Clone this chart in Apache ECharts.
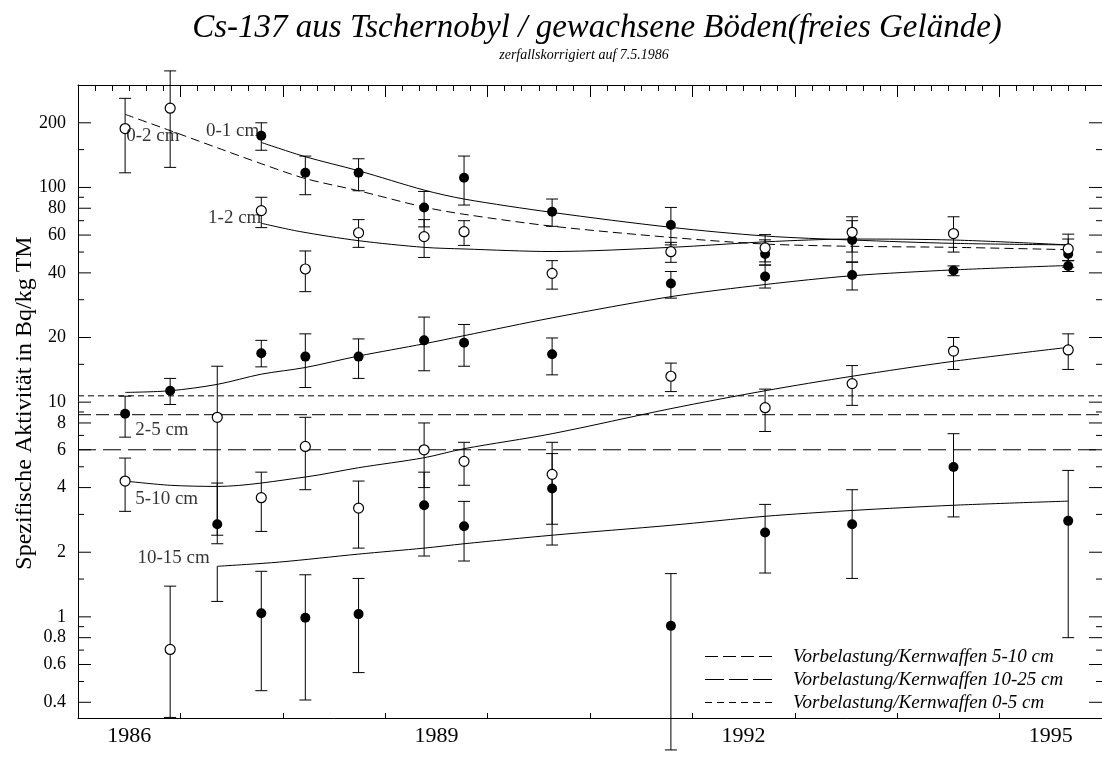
<!DOCTYPE html>
<html>
<head>
  <meta charset="utf-8">
  <script src="https://cdn.jsdelivr.net/npm/echarts@6/dist/echarts.min.js"></script>
</head>
<body style="margin: 0">
  <div id="container" style="width: 1102px; height: 774px"></div>
  <script>
    // Messpunkte: [Jahr, Wert, unten, oben]
    var fill0to1 = [[1987.79,174,149,200],[1988.22,117,92.5,140],[1988.74,117,96.5,136],[1989.38,80.7,65.5,95.8],[1989.77,111,82.8,140],[1990.63,77,65.9,88.3],[1991.79,66.8,54,80.7],[1992.71,49,43.5,57],[1993.56,56.9,45,70],[1995.67,49,42.5,60.6]];
    var fill2to5 = [[1986.46,8.83,6.87,10.66],[1986.90,11.3,9.75,12.9],[1987.79,16.9,14.6,19.4],[1988.22,16.3,11.7,20.8],[1988.74,16.3,12.9,19.7],[1989.38,19.4,14.0,24.9],[1989.77,18.9,14.7,23],[1990.63,16.7,13.4,19.9],[1991.79,35.7,30.5,40.6],[1992.71,38.5,34,43.5],[1993.56,39.1,33.3,44.8],[1994.55,41,38.8,43.1],[1995.67,43.1,40.6,45.6]];
    var fill10to15 = [[1987.36,2.7,2.4,4.2],[1987.79,1.04,0.453,1.63],[1988.22,0.99,0.41,1.57],[1988.74,1.03,0.55,1.51],[1989.38,3.31,1.92,4.72],[1989.77,2.64,1.82,3.45],[1990.63,3.96,2.16,5.76],[1991.79,0.908,0.24,1.59],[1992.71,2.47,1.60,3.34],[1993.56,2.70,1.51,3.91],[1994.55,4.99,2.92,7.13],[1995.67,2.80,0.80,4.81]];
    var open0to2 = [[1986.46,188,117,260],[1986.90,234,124,349]];
    var open1to2 = [[1987.79,78,65,90],[1988.22,41.7,32.7,50.6],[1988.74,61.5,52.6,70.8],[1989.38,59,47.2,70.8],[1989.77,62.2,53.7,70],[1990.63,39.8,33.6,45.6],[1991.79,50.2,44.8,55.5],[1992.71,52.3,45,60.3],[1993.56,61.8,50,73],[1994.55,61,50,73],[1995.67,51.7,45.6,57.5]];
    var open5to10 = [[1986.46,4.29,3.10,5.49],[1986.90,0.705,0.34,1.39],[1987.36,8.5,2.19,14.7],[1987.79,3.59,2.50,4.72],[1988.22,6.22,3.91,8.5],[1988.74,3.21,2.09,4.29],[1989.38,6.0,4.0,8.0],[1989.77,5.3,4.1,6.5],[1990.63,4.61,2.7,6.5],[1991.79,13.2,11.2,15.2],[1992.71,9.42,7.3,11.5],[1993.56,12.2,9.66,14.8],[1994.55,17.3,14.2,20],[1995.67,17.5,14.2,20.8]];
    var barOnly = [[1987.36,1.18,1.72]];

    // Ausgleichskurven
    var fit0to2 = [[1986.46,219],[1986.90,184],[1987.36,153],[1987.79,129],[1988.22,110],[1988.74,96.5],[1989.38,81],[1989.77,75],[1990.63,66],[1991.79,58.5],[1992.71,54.5],[1993.56,53.2],[1994.55,52.6],[1995.67,51.3]];
    var fit0to1 = [[1987.79,162],[1988.22,139],[1988.74,119.6],[1989.38,97.2],[1989.77,88.3],[1990.63,76.5],[1991.79,65.2],[1992.71,59.4],[1993.56,56.9],[1994.55,54.9],[1995.67,54]];
    var fit1to2 = [[1987.79,68.1],[1988.16,62.4],[1988.74,56.5],[1989.38,52.6],[1989.77,51.7],[1990.63,50.3],[1991.79,52.6],[1992.71,55.8],[1993.56,57.5],[1994.55,56.9],[1995.67,54]];
    var fit2to5 = [[1986.46,11.1],[1986.90,11.3],[1987.36,12.1],[1987.79,13.5],[1988.22,14.5],[1988.74,16.4],[1989.38,18.7],[1989.77,20.4],[1990.63,24.7],[1991.79,31],[1992.71,35.3],[1993.56,38.8],[1994.55,41.3],[1995.67,43.3]];
    var fit5to10 = [[1986.46,4.29],[1986.90,4.10],[1987.36,4.05],[1988.22,4.48],[1988.74,4.95],[1989.38,5.51],[1989.77,6.07],[1990.63,7.13],[1991.79,9.33],[1992.71,11.3],[1993.56,13.2],[1994.55,15.5],[1995.67,18.0]];
    var fit10to15 = [[1987.36,1.72],[1987.97,1.80],[1988.74,1.96],[1989.38,2.09],[1989.77,2.19],[1990.63,2.40],[1991.79,2.67],[1992.71,2.94],[1993.56,3.13],[1994.55,3.31],[1995.67,3.46]];

    // Vorbelastung (0-5, 5-10, 10-25 cm)
    var refValues = [10.7, 8.74, 6.0];
    var refDash = [[6, 4], [13, 5], [18, 7]];
    var legendLabels = ['Vorbelastung/Kernwaffen 5-10 cm', 'Vorbelastung/Kernwaffen 10-25 cm', 'Vorbelastung/Kernwaffen 0-5 cm'];
    var legendDash = [[13, 5], [19, 5], [7, 5]];

    var depthLabels = [
      { name: '0-2 cm', value: [1986.47, 174] },
      { name: '0-1 cm', value: [1987.25, 184] },
      { name: '1-2 cm', value: [1987.27, 72] },
      { name: '2-5 cm', value: [1986.56, 7.38] },
      { name: '5-10 cm', value: [1986.56, 3.55] },
      { name: '10-15 cm', value: [1986.58, 1.87] }
    ];

    var yMajorTicks = [0.4, 0.6, 0.8, 1, 2, 4, 6, 8, 10, 20, 40, 60, 80, 100, 200];
    var yMinorTicks = [0.5, 0.7, 0.9, 1.5, 3, 5, 7, 9, 15, 30, 50, 70, 90, 150];
    var xLabelYears = [1986, 1989, 1992, 1995];
    var xMin = 1986, xMax = 1996, yMin = 0.338, yMax = 300;

    var FONT = "'Liberation Serif', 'Times New Roman', serif";

    var dom = document.getElementById('container');
    var myChart = echarts.init(dom, null, { renderer: 'canvas' });

    function xy(arr) {
      return arr.map(function (d) { return [d[0], d[1]]; });
    }
    var errBars = [];
    [fill0to1, fill2to5, fill10to15, open0to2, open1to2, open5to10].forEach(function (arr) {
      arr.forEach(function (d) { errBars.push([d[0], d[2], d[3], 1]); });
    });
    barOnly.forEach(function (d) { errBars.push([d[0], d[1], d[2], 0]); });

    var yTicks = yMajorTicks.map(function (v) { return [xMin, v, 1]; })
      .concat(yMinorTicks.map(function (v) { return [xMin, v, 0]; }));

    function renderErr(params, api) {
      var x = api.value(0);
      var lo = api.coord([x, api.value(1)]);
      var hi = api.coord([x, api.value(2)]);
      var w = 6;
      var st = { stroke: '#000', lineWidth: 1 };
      var kids = [
        { type: 'line', shape: { x1: lo[0], y1: lo[1], x2: hi[0], y2: hi[1] }, style: st },
        { type: 'line', shape: { x1: lo[0] - w, y1: lo[1], x2: lo[0] + w, y2: lo[1] }, style: st }
      ];
      if (api.value(3)) {
        kids.push({ type: 'line', shape: { x1: hi[0] - w, y1: hi[1], x2: hi[0] + w, y2: hi[1] }, style: st });
      }
      return { type: 'group', children: kids };
    }

    function renderYTick(params, api) {
      var v = api.value(1);
      var major = api.value(2);
      var l = api.coord([xMin, v]);
      var r = api.coord([xMax, v]);
      var len = major ? 13 : 6;
      var st = { stroke: '#000', lineWidth: 1 };
      var kids = [
        { type: 'line', shape: { x1: l[0], y1: l[1], x2: l[0] + len, y2: l[1] }, style: st },
        { type: 'line', shape: { x1: r[0] - len, y1: r[1], x2: r[0], y2: r[1] }, style: st }
      ];
      if (major) {
        kids.push({ type: 'text', x: l[0] - 12, y: l[1], style: { text: String(v), align: 'right', verticalAlign: 'middle', fontSize: 18, fontFamily: FONT, fill: '#000' } });
      }
      return { type: 'group', children: kids };
    }

    function renderXLabel(params, api) {
      var p = api.coord([api.value(0), yMin]);
      return { type: 'text', x: p[0], y: p[1] + 18, style: { text: String(api.value(2)), align: 'center', verticalAlign: 'middle', fontSize: 22, fontFamily: FONT, fill: '#000' } };
    }

    function fitLine(data, dash) {
      return {
        type: 'line', data: data, smooth: 0.3, showSymbol: false, silent: true, z: 2,
        lineStyle: { color: '#000', width: 1, type: dash || 'solid' }
      };
    }

    var series = [
      fitLine(fit0to2, [9, 5]),
      fitLine(fit0to1),
      fitLine(fit1to2),
      fitLine(fit2to5),
      fitLine(fit5to10),
      fitLine(fit10to15)
    ];
    refValues.forEach(function (v, i) {
      series.push({
        type: 'line', data: [[xMin, v], [xMax, v]], showSymbol: false, silent: true, z: 2,
        lineStyle: { color: '#000', width: 1, type: refDash[i] }
      });
    });
    series.push({ type: 'custom', data: errBars, renderItem: renderErr, silent: true, z: 3, clip: false });
    series.push({
      type: 'scatter', data: xy(fill0to1).concat(xy(fill2to5), xy(fill10to15)),
      symbol: 'circle', symbolSize: 10, z: 4, silent: true,
      itemStyle: { color: '#000', opacity: 1 }
    });
    series.push({
      type: 'scatter', data: xy(open0to2).concat(xy(open1to2), xy(open5to10)),
      symbol: 'circle', symbolSize: 10, z: 4, silent: true,
      itemStyle: { color: '#fff', borderColor: '#000', borderWidth: 1.2, opacity: 1 }
    });
    series.push({
      type: 'scatter', data: depthLabels, symbolSize: 0, silent: true, z: 5,
      label: { show: true, position: 'right', distance: 0, formatter: '{b}', color: '#000', fontSize: 19, fontFamily: FONT }
    });
    series.push({ type: 'custom', data: yTicks, renderItem: renderYTick, silent: true, z: 6, clip: false });
    series.push({
      type: 'custom', renderItem: renderXLabel, silent: true, z: 6, clip: false,
      data: xLabelYears.map(function (y) { return [y + 0.5, yMin, y]; })
    });

    var graphic = [
      { type: 'text', x: 597, y: 28, style: { text: 'Cs-137 aus Tschernobyl / gewachsene Böden(freies Gelände)', align: 'center', verticalAlign: 'middle', fontSize: 33, fontStyle: 'italic', fontFamily: FONT, fill: '#000' } },
      { type: 'text', x: 584, y: 55, style: { text: 'zerfallskorrigiert auf 7.5.1986', align: 'center', verticalAlign: 'middle', fontSize: 14, fontStyle: 'italic', fontFamily: FONT, fill: '#000' } },
      { type: 'text', x: 25, y: 403, rotation: Math.PI / 2, style: { text: 'Spezifische Aktivität in Bq/kg TM', align: 'center', verticalAlign: 'middle', fontSize: 24, fontFamily: FONT, fill: '#000' } }
    ];
    legendLabels.forEach(function (t, i) {
      var y = 656.5 + i * 23;
      graphic.push({ type: 'line', shape: { x1: 705, y1: y, x2: 772, y2: y }, style: { stroke: '#000', lineWidth: 1, lineDash: legendDash[i] } });
      graphic.push({ type: 'text', x: 793, y: y, style: { text: t, verticalAlign: 'middle', fontSize: 19, fontStyle: 'italic', fontFamily: FONT, fill: '#000' } });
    });

    var option = {
      backgroundColor: '#fff',
      animation: false,
      grid: { left: 78, right: -3, top: 85, bottom: 56 },
      xAxis: [
        {
          type: 'value', position: 'bottom', min: xMin, max: xMax, interval: 1,
          axisLine: { show: true, lineStyle: { color: '#000', width: 1 } },
          axisTick: { show: true, inside: true, length: 5, lineStyle: { color: '#000' } },
          axisLabel: { show: false }, splitLine: { show: false }
        },
        {
          type: 'value', position: 'top', min: xMin, max: xMax, interval: 1,
          axisLine: { show: true, lineStyle: { color: '#000', width: 1 } },
          axisTick: { show: true, inside: true, length: 12, lineStyle: { color: '#000' } },
          minorTick: { show: true, splitNumber: 6, length: 6, lineStyle: { color: '#000' } },
          axisLabel: { show: false }, splitLine: { show: false }
        }
      ],
      yAxis: {
        type: 'log', logBase: 10, min: yMin, max: yMax,
        axisLine: { show: true, lineStyle: { color: '#000', width: 1 } },
        axisTick: { show: false }, axisLabel: { show: false }, splitLine: { show: false }
      },
      graphic: graphic,
      series: series
    };

    myChart.setOption(option);
  </script>
</body>
</html>
